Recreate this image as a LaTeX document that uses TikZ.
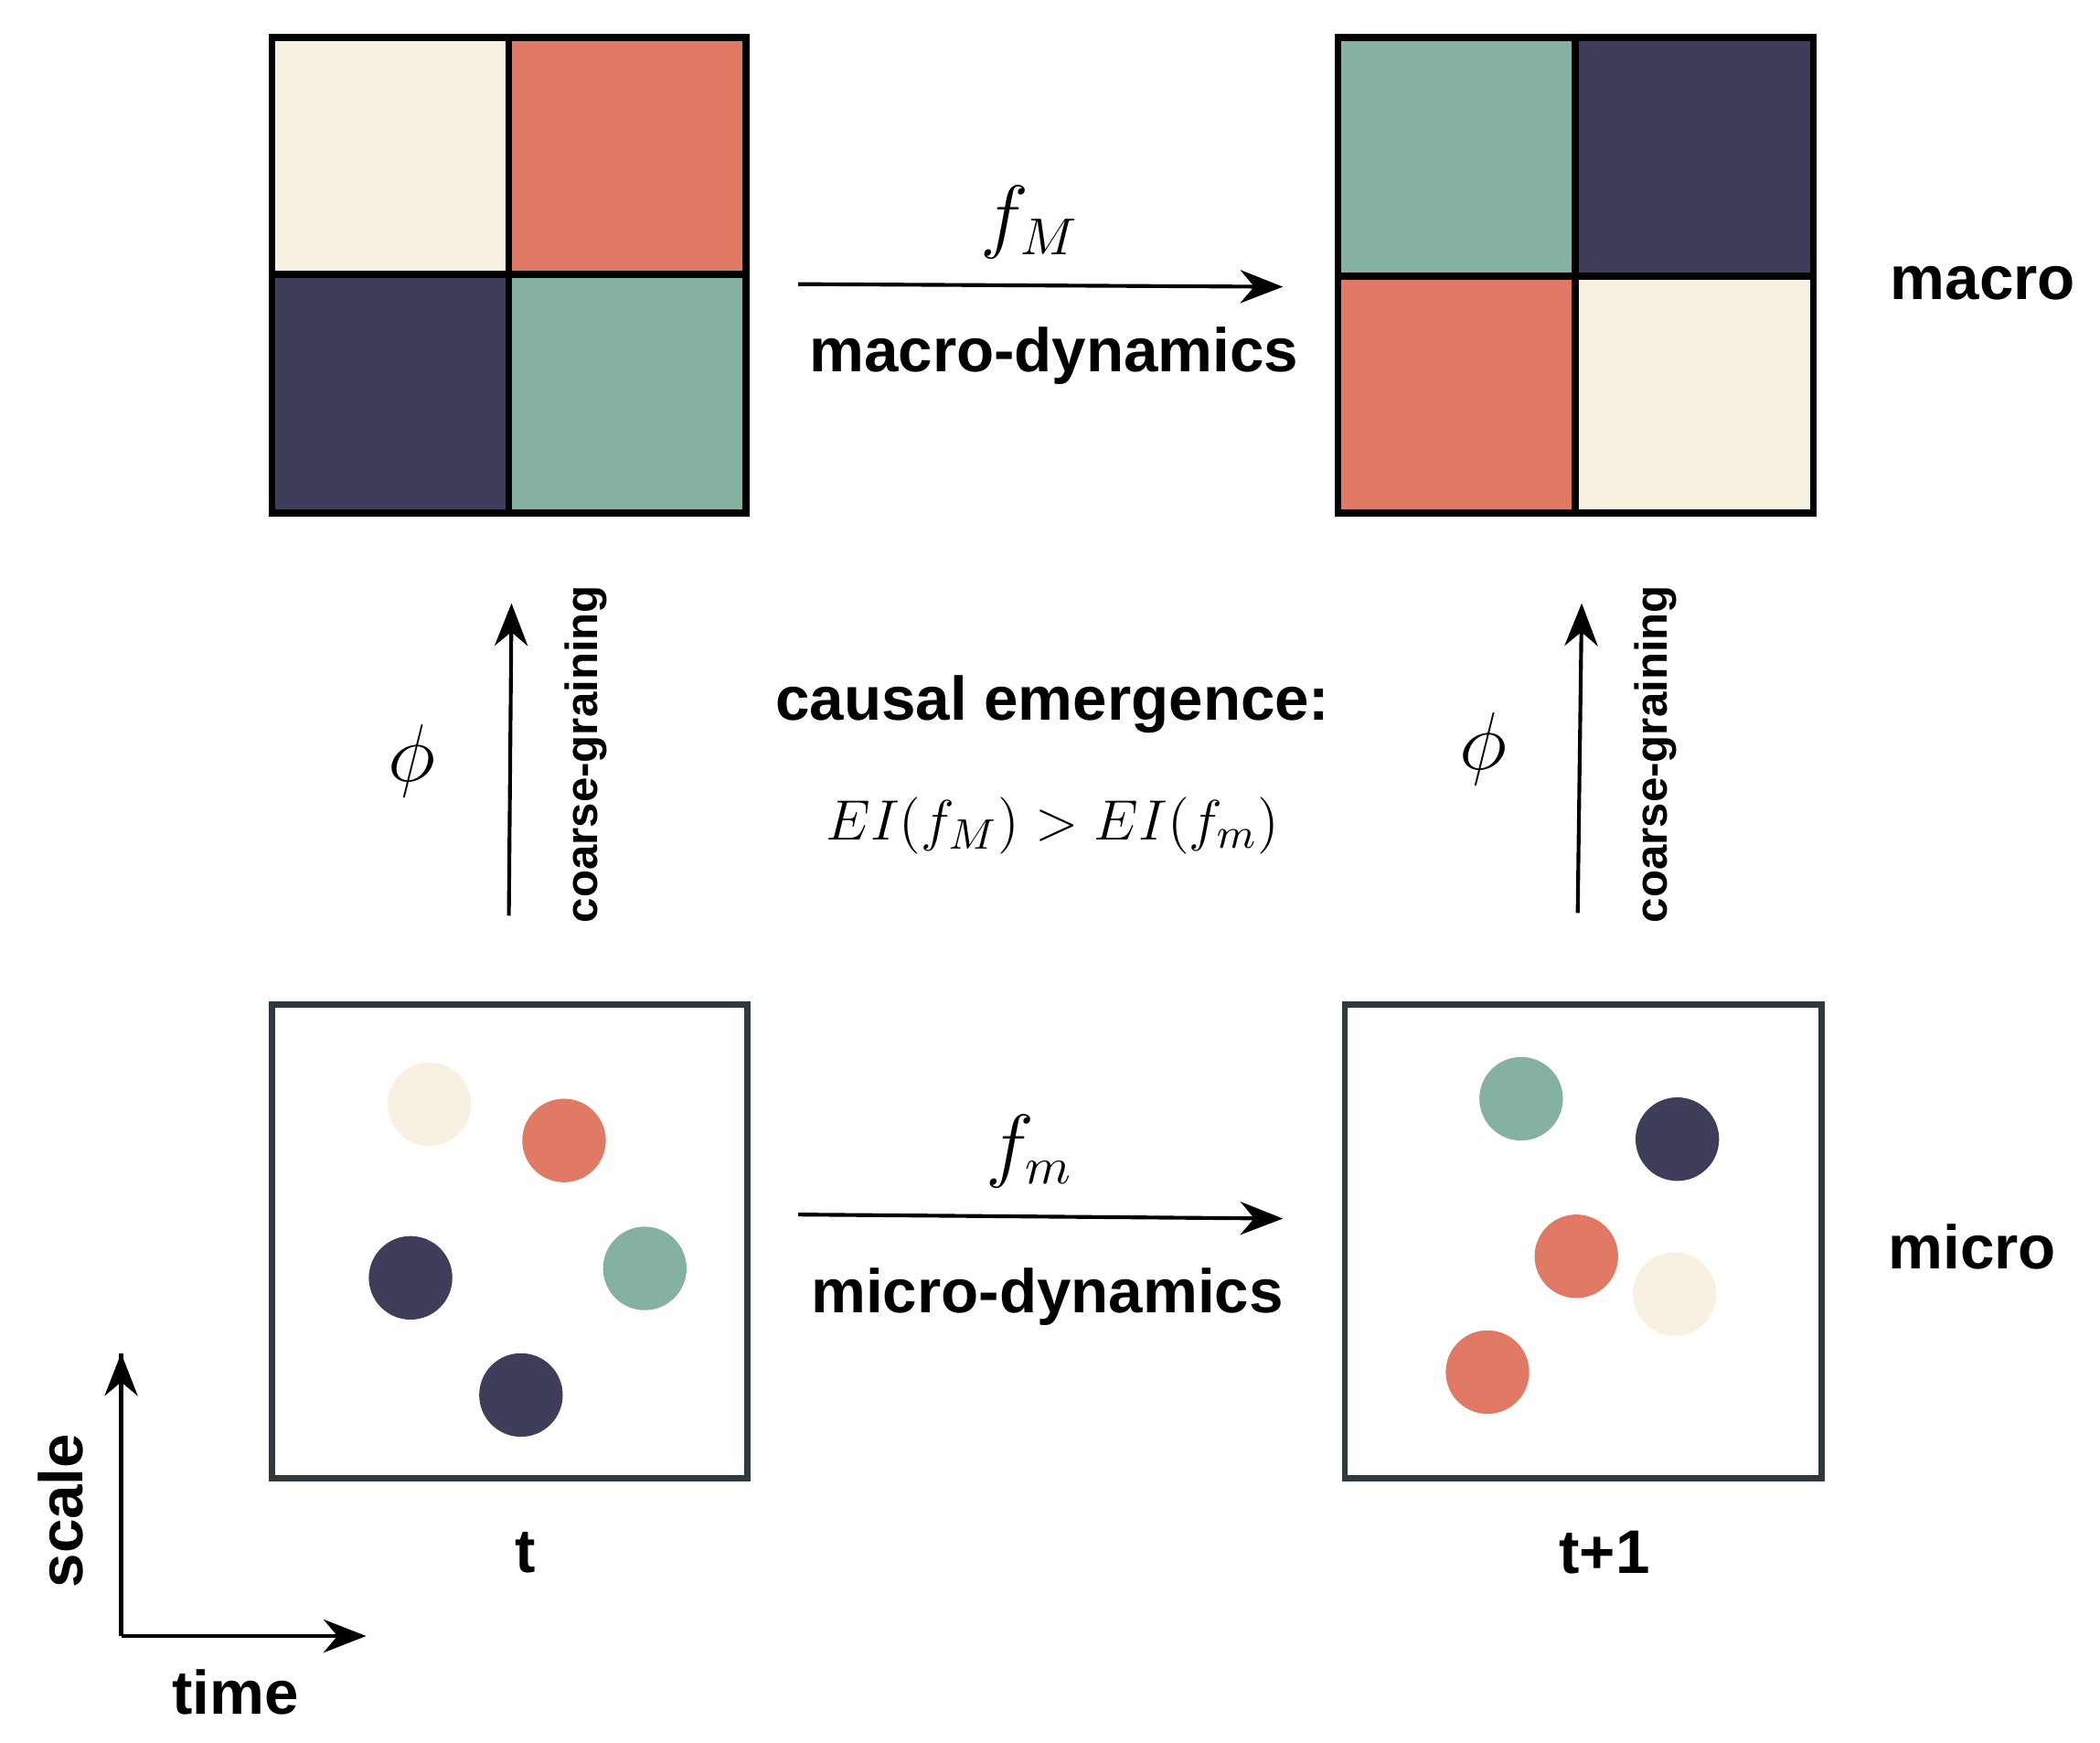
\documentclass[tikz,border=0pt]{standalone}
\usepackage{fontspec}
\setmainfont{Liberation Sans}
\usetikzlibrary{arrows.meta}
\definecolor{cream}{HTML}{F7F1E1}
\definecolor{salmon}{HTML}{E07A64}
\definecolor{navy}{HTML}{3E3D5A}
\definecolor{sage}{HTML}{85B2A0}
\definecolor{boxc}{HTML}{2F3A3F}
\begin{document}
\begin{tikzpicture}[x=0.01cm,y=-0.01cm,
  lbl/.style={font=\fontsize{13pt}{15pt}\selectfont\bfseries},
  small/.style={font=\fontsize{9.5pt}{11pt}\selectfont\bfseries},
  mth/.style={font=\fontsize{16pt}{18pt}\selectfont},
  arr/.style={-{Stealth[length=9pt,width=7pt]},line width=0.8pt},
  dot/.style={circle,minimum size=0.62cm,inner sep=0pt,draw=none}]
\useasboundingbox (0,0) rectangle (1560,1294);
% macro grids
\fill[cream] (202,28) rectangle (378,204);
\fill[salmon] (378,28) rectangle (554,204);
\fill[navy] (202,204) rectangle (378,381);
\fill[sage] (378,204) rectangle (554,381);
\draw[line width=1.5pt] (202,28) rectangle (554,381) (378,28)--(378,381) (202,204)--(554,204);
\fill[sage] (994,28) rectangle (1170,205);
\fill[navy] (1170,28) rectangle (1347,205);
\fill[salmon] (994,205) rectangle (1170,381);
\fill[cream] (1170,205) rectangle (1347,381);
\draw[line width=1.5pt] (994,28) rectangle (1347,381) (1170,28)--(1170,381) (994,205)--(1347,205);
% micro boxes
\draw[boxc,line width=1.3pt] (202,746) rectangle (555,1098);
\draw[boxc,line width=1.3pt] (999,746) rectangle (1353,1098);
\node[dot,fill=cream] (a1) at (319,820) {};
\node[dot,fill=salmon] (a2) at (419,847) {};
\node[dot,fill=navy] (a3) at (305,949) {};
\node[dot,fill=sage] (a4) at (479,942) {};
\node[dot,fill=navy] (a5) at (387,1036) {};
\node[dot,fill=sage] (b1) at (1130,816) {};
\node[dot,fill=navy] (b2) at (1246,846) {};
\node[dot,fill=salmon] (b3) at (1171,933) {};
\node[dot,fill=cream] (b4) at (1244,961) {};
\node[dot,fill=salmon] (b5) at (1105,1019) {};
% horizontal arrows
\coordinate (m1) at (593,211); \coordinate (m2) at (953,213);
\draw[arr] (m1) -- (m2);
\node[mth] (fM) at (765,165) {$f_M$};
\node[lbl] (md) at (783,264) {macro-dynamics};
\coordinate (u1) at (593,902); \coordinate (u2) at (953,905);
\draw[arr] (u1) -- (u2);
\node[mth] (fm) at (765,855) {$f_m$};
\node[lbl] (ud) at (778,963) {micro-dynamics};
% vertical arrows
\coordinate (v1) at (378,680); \coordinate (v2) at (380,448);
\draw[arr] (v1) -- (v2);
\node[mth] (p1) at (306,565) {$\phi$};
\node[small,rotate=90] (c1) at (435,560) {coarse-graining};
\coordinate (w1) at (1172,678); \coordinate (w2) at (1175,448);
\draw[arr] (w1) -- (w2);
\node[mth] (p2) at (1102,556) {$\phi$};
\node[small,rotate=90] (c2) at (1230,560) {coarse-graining};
% center
\node[lbl] (ce) at (782,523) {causal emergence:};
\node[font=\fontsize{13pt}{15pt}\selectfont] (ei) at (782,613) {$EI(f_M)>EI(f_m)$};
\node[lbl] (mac) at (1473,210) {macro};
\node[lbl] (mic) at (1465,926) {micro};
\node[lbl] (t) at (390,1153) {t};
\node[lbl] (t1) at (1192,1153) {t+1};
% axes
\coordinate (o) at (90,1215); \coordinate (yu) at (90,1005); \coordinate (xr) at (272,1215);
\draw[arr,-] (o) -- (yu);
\draw[arr] (o) -- (yu);
\draw[arr] (o) -- (xr);
\node[lbl,rotate=90] (sc) at (45,1122) {scale};
\node[lbl] (tm) at (175,1257) {time};
\end{tikzpicture}
\end{document}
